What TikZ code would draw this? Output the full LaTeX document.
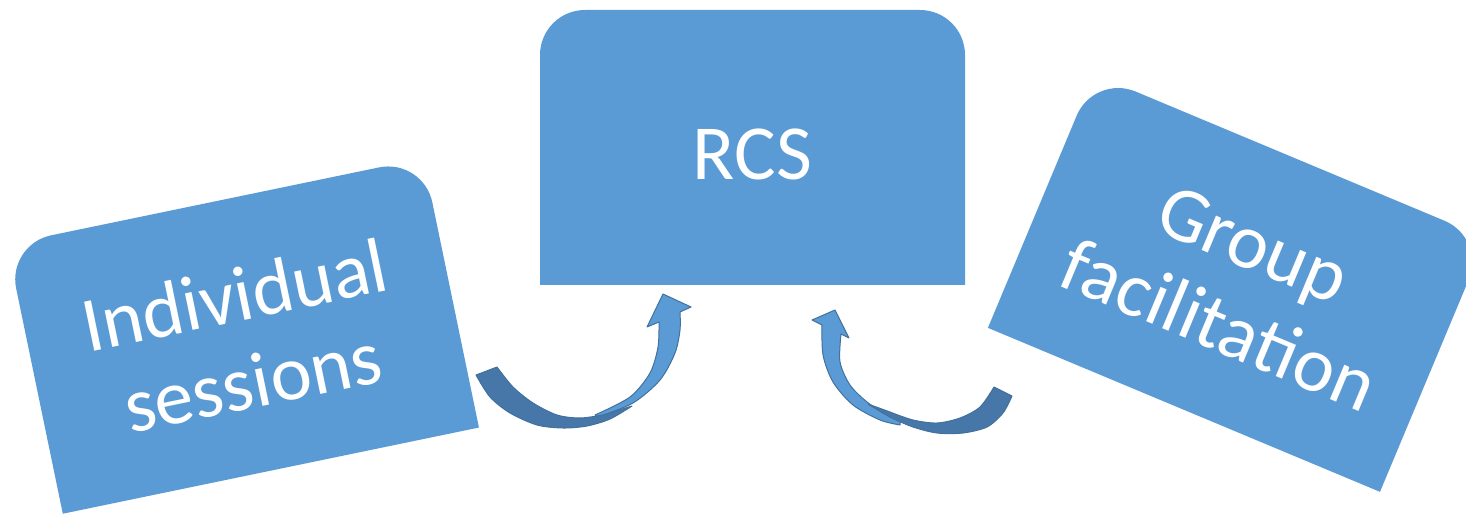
\documentclass[tikz,border=0pt]{standalone}
\usepackage{fontspec}
\setmainfont{Carlito}
\usepackage{tikz}
\usepackage{xcolor}
\usetikzlibrary{positioning}

\definecolor{boxblue}{HTML}{5B9BD5}
\definecolor{arrowdark}{HTML}{4677A8}
\definecolor{arrowline}{HTML}{41719C}

\tikzset{
  tab/.style={fill=boxblue},
  tablabel/.style={text=white, align=center, inner sep=0pt, transform shape,
    font=\fontsize{78}{88}\selectfont},
  bandback/.style={fill=arrowdark, draw=arrowline, line width=1pt, line join=round},
  bandfront/.style={fill=boxblue, draw=arrowline, line width=1pt, line join=round}
}

% box with the two top corners rounded, centred on (0,0)
\newcommand{\tabshape}{(-212.5,-137.5) -- (212.5,-137.5) -- (212.5,92.5)
  arc[start angle=0, end angle=90, radius=45pt] -- (-167.5,137.5)
  arc[start angle=90, end angle=180, radius=45pt] -- cycle}

\begin{document}
\begin{tikzpicture}[x=1pt, y=1pt]
        \useasboundingbox (0,0) rectangle (1466,514);

        \begin{scope}[shift={(752.5,366.5)}]
            \fill[tab] \tabshape;
            \node[tablabel] (rcs) at (0,-7) {RCS};
        \end{scope}

        \begin{scope}[shift={(243,178)}, rotate=11.7]
            \fill[tab] \tabshape;
            \node[tablabel] (indiv) at (0,-2) {Individual\\sessions};
        \end{scope}

        \begin{scope}[shift={(1237,231)}, rotate=-22.7]
            \fill[tab] \tabshape;
            \node[tablabel] (group) at (0,-2) {Group\\facilitation};
        \end{scope}

        % left curved arrow
        \filldraw[bandfront] plot[smooth] coordinates {(595,99) (630,117) (650,141) (658,167) (659,192)}
            -- (647,187) -- (663,220) -- (691,207)
            -- plot[smooth] coordinates {(680,202) (680,184) (675,161) (660,134) (633,111) (598,97)} -- cycle;
        \filldraw[bandback] plot[smooth] coordinates {(476,139) (490,117) (510,101) (537,89) (563,86) (587,88) (610,95) (632,108)}
            -- plot[smooth] coordinates {(603,99) (580,96) (557,99) (533,111) (513,127) (497,147)} -- cycle;

        % right curved arrow
        \filldraw[bandfront] plot[smooth] coordinates {(900,89) (880,94) (853,109) (833,132) (823,159) (822,189)}
            -- (812,194) -- (835,204) -- (849,176)
            -- plot[smooth] coordinates {(841,180) (840,152) (850,129) (867,112) (887,99) (900,94)} -- cycle;
        \filldraw[bandback] plot[smooth] coordinates {(1012,118) (1003,101) (987,87) (963,81) (937,81) (913,87) (890,97) (868,110)}
            -- plot[smooth] coordinates {(890,102) (913,94) (937,91) (960,96) (980,107) (994,127)} -- cycle;
\end{tikzpicture}
\end{document}
